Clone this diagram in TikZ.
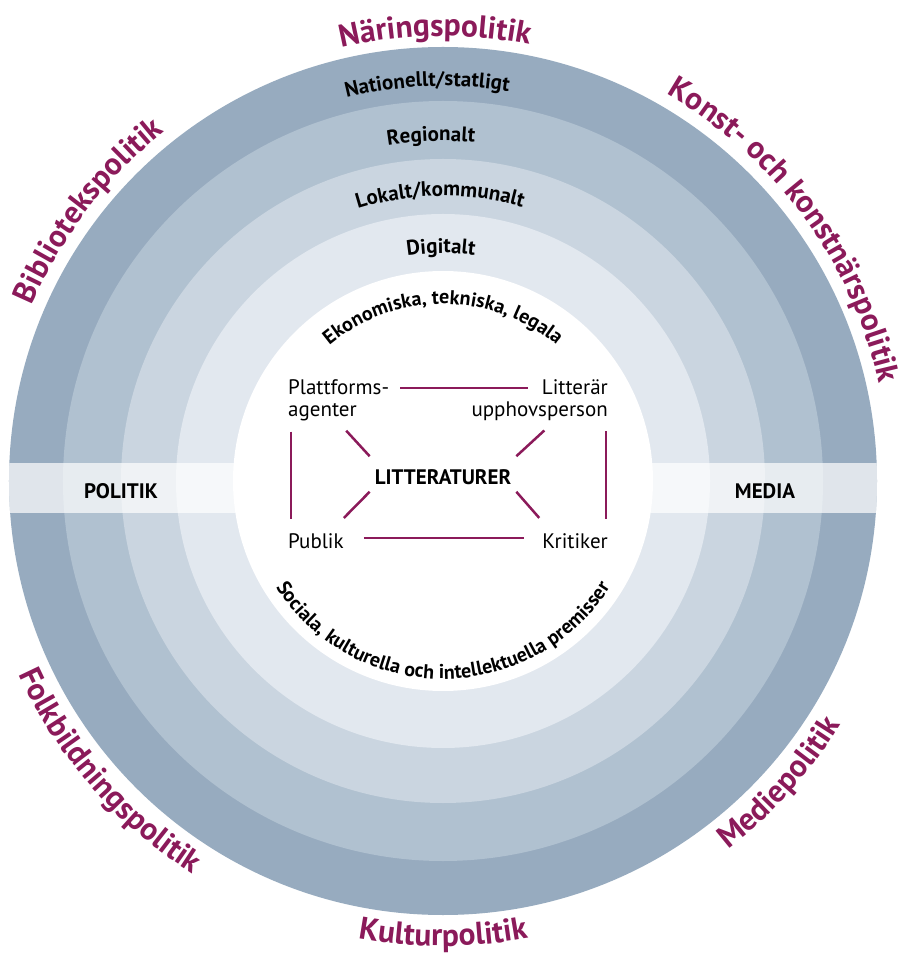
\documentclass[tikz,border=0pt]{standalone}
\usepackage{fontspec}
\setmainfont{PT Sans}
\usetikzlibrary{decorations.text}
\definecolor{ringA}{HTML}{97ABBF}
\definecolor{ringB}{HTML}{B0C1D0}
\definecolor{ringC}{HTML}{CAD5E0}
\definecolor{ringD}{HTML}{E2E8EF}
\definecolor{plum}{HTML}{8B1A5A}
\newcommand\outerfont{\fontsize{31.5}{34}\selectfont\bfseries\color{plum}}
\newcommand\ringfont{\fontsize{21}{24}\selectfont\bfseries}
\newcommand\innerfont{\fontsize{20}{23}\selectfont\bfseries}
\tikzset{
  lbl/.style={inner sep=0pt, font=\fontsize{21}{22}\selectfont},
  bandlbl/.style={inner sep=0pt, font=\fontsize{21}{23}\selectfont\bfseries},
  link/.style={draw=plum, line width=2.5pt},
}
\begin{document}
\begin{tikzpicture}[x=1pt,y=1pt]
\useasboundingbox (-443,-479) rectangle (461,481);
\fill[white] (-443,-479) rectangle (461,481);
% rings
\fill[ringA] (0,0) circle[radius=434];
\fill[ringB] (0,0) circle[radius=380];
\fill[ringC] (0,0) circle[radius=322];
\fill[ringD] (0,0) circle[radius=267];
\begin{scope}
  \clip (0,0) circle[radius=434];
  \fill[white, opacity=0.7] (-443,-32) rectangle (461,18);
\end{scope}
\fill[white] (0,0) circle[radius=210];
% outer labels (top: clockwise, bottom: counterclockwise)
\path[decorate, decoration={text along path, text align=center, text={|\outerfont|Näringspolitik}}]
  (131:445) arc[start angle=131, end angle=51, radius=445];
\path[decorate, decoration={text along path, text align=center, text={|\outerfont|Konst- och konstnärspolitik}}]
  (86.3:447) arc[start angle=86.3, end angle=-13.7, radius=447];
\path[decorate, decoration={text along path, text align=center, text={|\outerfont|Bibliotekspolitik}}]
  (182.7:447) arc[start angle=182.7, end angle=102.7, radius=447];
\path[decorate, decoration={text along path, text align=center, text={|\outerfont|Folkbildningspolitik}}]
  (176:466) arc[start angle=176, end angle=266, radius=466];
\path[decorate, decoration={text along path, text align=center, text={|\outerfont|Kulturpolitik}}]
  (230:465) arc[start angle=230, end angle=310, radius=465];
\path[decorate, decoration={text along path, text align=center, text={|\outerfont|Mediepolitik}}]
  (-81.9:466) arc[start angle=-81.9, end angle=-1.9, radius=466];
% ring labels
\path[decorate, decoration={text along path, text align=center, text={|\ringfont|Nationellt/statligt}}]
  (132.3:395) arc[start angle=132.3, end angle=52.3, radius=395];
\path[decorate, decoration={text along path, text align=center, text={|\ringfont|Regionalt}}]
  (132:340) arc[start angle=132, end angle=52, radius=340];
\path[decorate, decoration={text along path, text align=center, text={|\ringfont|Lokalt/kommunalt}}]
  (130.6:285) arc[start angle=130.6, end angle=50.6, radius=285];
\path[decorate, decoration={text along path, text align=center, text={|\ringfont|Digitalt}}]
  (130.5:228) arc[start angle=130.5, end angle=50.5, radius=228];
% inner arc texts
\path[decorate, decoration={text along path, text align=center, text={|\innerfont|Ekonomiska, tekniska, legala}}]
  (165:177) arc[start angle=165, end angle=15, radius=177];
\path[decorate, decoration={text along path, text align=center, text={|\innerfont|Sociala, kulturella och intellektuella premisser}}]
  (185:198) arc[start angle=185, end angle=355, radius=198];
% band labels
\node[bandlbl] (politik) at (-322,-9.7) {POLITIK};
\node[bandlbl] (media) at (322,-9.7) {MEDIA};
% actors
\node[lbl, align=left, anchor=north west] (plat) at (-155,102) {Plattforms-\\agenter};
\node[lbl, align=right, anchor=north east] (litt) at (165,102) {Litterär\\upphovsperson};
\node[lbl, anchor=base west] (pub) at (-155,-67) {Publik};
\node[lbl, anchor=base east] (krit) at (165,-67) {Kritiker};
\node[inner sep=0pt, font=\fontsize{21}{23}\selectfont\bfseries] (lit) at (0,4) {LITTERATURER};
% connectors
\draw[link] ([xshift=11pt,yshift=-9pt]plat.north east) -- ([xshift=-80pt,yshift=-9pt]litt.north east);
\draw[link] ([xshift=3pt,yshift=-11pt]plat.south west) -- ([xshift=3pt,yshift=14pt]pub.north west);
\draw[link] ([xshift=-2pt,yshift=-11pt]litt.south east) -- ([xshift=-2pt,yshift=14pt]krit.north east);
\draw[link] ([xshift=20pt,yshift=2.5pt]pub.east) -- ([xshift=-18pt,yshift=2.5pt]krit.west);
\draw[link] ([xshift=-43pt,yshift=-10pt]plat.south east) -- ([xshift=-5pt,yshift=13pt]lit.north west);
\draw[link] ([xshift=73pt,yshift=-10pt]litt.south west) -- ([xshift=5pt,yshift=13pt]lit.north east);
\draw[link] ([yshift=15pt]pub.north east) -- ([xshift=-5pt,yshift=-7pt]lit.south west);
\draw[link] ([xshift=-3pt,yshift=15pt]krit.north west) -- ([xshift=5pt,yshift=-7pt]lit.south east);
\end{tikzpicture}
\end{document}
